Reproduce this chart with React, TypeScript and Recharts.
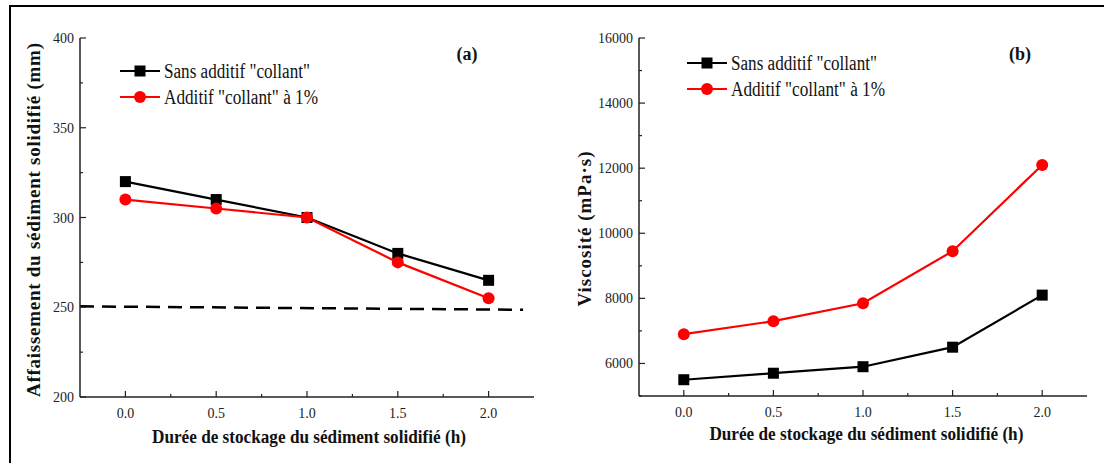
import React from 'react';
import { LineChart, Line, XAxis, YAxis, Legend, ReferenceLine } from 'recharts';

const hours = [0, 0.5, 1.0, 1.5, 2.0];
const seriesKeys = ['sans', 'collant'];
const seriesNames = ['Sans additif "collant"', 'Additif "collant" à 1%'];

// (a) affaissement (mm)
const slumpSans = [320, 310, 300, 280, 265];
const slumpCollant = [310, 305, 300, 275, 255];
// limite en pointillés
const limitHours = [-0.25, 2.19];
const limitSlump = [250.5, 248.6];

// (b) viscosité (mPa·s)
const viscSans = [5500, 5700, 5900, 6500, 8100];
const viscCollant = [6900, 7300, 7850, 9450, 12100];

const xTicks = [0, 0.25, 0.5, 0.75, 1, 1.25, 1.5, 1.75, 2];
const slumpTicks = [200, 225, 250, 275, 300, 325, 350, 375, 400];
const viscTicks = [5000, 6000, 7000, 8000, 9000, 10000, 11000, 12000, 13000, 14000, 15000, 16000];

const slumpRows = hours.map((t, i) => ({ t, sans: slumpSans[i], collant: slumpCollant[i] }));
const viscRows = hours.map((t, i) => ({ t, sans: viscSans[i], collant: viscCollant[i] }));

const SERIF = '"Liberation Serif", "Times New Roman", serif';
const AXIS = '#222';

const makeYTick = (step: number) => (props: any) => {
  const { x, y, payload } = props;
  const major = payload.value % step === 0;
  return (
    <g key={payload.value}>
      <line x1={x} x2={x + (major ? 6 : 3)} y1={y} y2={y} stroke={AXIS} strokeWidth={1.2} />
      {major && (
        <text x={x - 6} y={y} dy={5} textAnchor="end" fontFamily={SERIF} fontSize={14} fill="#222">
          {payload.value}
        </text>
      )}
    </g>
  );
};

const XTick = (props: any) => {
  const { x, y, payload } = props;
  const major = payload.value % 0.5 === 0;
  return (
    <g key={payload.value}>
      <line x1={x} x2={x} y1={y} y2={y - (major ? 6 : 3)} stroke={AXIS} strokeWidth={1.2} />
      {major && (
        <text x={x} y={y + 21} textAnchor="middle" fontFamily={SERIF} fontSize={14} fill="#222">
          {payload.value.toFixed(1)}
        </text>
      )}
    </g>
  );
};

const squareDot = (p: any) => (
  <rect key={p.index} x={p.cx - 5.5} y={p.cy - 5.5} width={11} height={11} fill="#000" />
);

const legendWidths = [146, 154];

const LegendBox = (props: any) => {
  const items = [...(props.payload || [])].sort(
    (a: any, b: any) => seriesKeys.indexOf(a.dataKey) - seriesKeys.indexOf(b.dataKey)
  );
  return (
    <svg width={180} height={52} style={{ display: 'block', overflow: 'visible' }}>
      {items.map((it: any, i: number) => {
        const y = 12 + i * 26;
        const k = seriesKeys.indexOf(it.dataKey);
        return (
          <g key={i}>
            <line x1={0} x2={40} y1={y} y2={y} stroke={it.color} strokeWidth={2.2} />
            {k === 0 ? (
              <rect x={14.5} y={y - 5.5} width={11} height={11} fill={it.color} />
            ) : (
              <circle cx={20} cy={y} r={6} fill={it.color} />
            )}
            <text x={44} y={y + 7} fontFamily={SERIF} fontSize={20} fill="#111"
              textLength={legendWidths[k]} lengthAdjust="spacingAndGlyphs">
              {it.value}
            </text>
          </g>
        );
      })}
    </svg>
  );
};

type PanelProps = {
  rows: any[];
  yDomain: [number, number];
  yTicks: number[];
  majorStep: number;
  margin: any;
  width: number;
  legendPos: { left: number; top: number };
  tag: string;
  tagX: number;
  yTitle: string;
  yTitleX: number;
  yTitleY: number;
  yTitleLen: number;
  xTitleX: number;
  xTitleY: number;
  children?: React.ReactNode;
};

function Panel(p: PanelProps) {
  return (
    <LineChart width={p.width} height={463} data={p.rows} margin={p.margin}>
      <XAxis type="number" dataKey="t" domain={[-0.25, 2.25]} ticks={xTicks} interval={0}
        height={1} tickSize={0} tickMargin={0} tickLine={false}
        axisLine={{ stroke: AXIS, strokeWidth: 1.5 }} tick={(t: any) => <XTick {...t} />} />
      <YAxis type="number" domain={p.yDomain} ticks={p.yTicks} interval={0}
        width={1} tickSize={0} tickMargin={0} tickLine={false}
        axisLine={{ stroke: AXIS, strokeWidth: 1.5 }} tick={makeYTick(p.majorStep)} />
      {p.children}
      <Line dataKey="sans" name={seriesNames[0]} stroke="#000" strokeWidth={2.2}
        dot={squareDot} activeDot={false} isAnimationActive={false} />
      <Line dataKey="collant" name={seriesNames[1]} stroke="#ff0000" strokeWidth={2.2}
        dot={{ r: 6, fill: '#ff0000', stroke: '#ff0000', strokeWidth: 0 }} activeDot={false}
        isAnimationActive={false} />
      <Legend layout="vertical" align="center" verticalAlign="middle" content={LegendBox}
        wrapperStyle={{ left: p.legendPos.left, top: p.legendPos.top, width: 180, height: 52 }} />
      <text x={p.tagX} y={60} textAnchor="middle" fontFamily={SERIF} fontWeight="bold" fontSize={18} fill="#111">
        {p.tag}
      </text>
      <text x={p.yTitleX} y={p.yTitleY} transform={`rotate(-90 ${p.yTitleX} ${p.yTitleY})`}
        textAnchor="middle" fontFamily={SERIF} fontWeight="bold" fontSize={19} fill="#111"
        textLength={p.yTitleLen}>
        {p.yTitle}
      </text>
      <text x={p.xTitleX} y={p.xTitleY} textAnchor="middle" fontFamily={SERIF} fontWeight="bold"
        fontSize={19} fill="#111" textLength={314} lengthAdjust="spacingAndGlyphs">
        Durée de stockage du sédiment solidifié (h)
      </text>
    </LineChart>
  );
}

export default function App() {
  return (
    <div style={{ position: 'absolute', left: 0, top: 0, width: 1104, height: 463, overflow: 'hidden', background: '#fff' }}>
      <div style={{ position: 'absolute', left: 9, top: 5, width: 1200, height: 600, borderTop: '2px solid #000', borderLeft: '2px solid #000' }} />
      <div style={{ position: 'absolute', left: 0, top: 0 }}>
        <Panel rows={slumpRows} yDomain={[200, 400]} yTicks={slumpTicks} majorStep={50}
          width={560} margin={{ top: 38, right: 26, bottom: 65, left: 79 }}
          legendPos={{ left: 119.5, top: 58.7 }} tag="(a)" tagX={467}
          yTitle="Affaissement du sédiment solidifié (mm)" yTitleX={40} yTitleY={220} yTitleLen={354}
          xTitleX={309} xTitleY={443}>
          <ReferenceLine
            segment={[
              { x: limitHours[0], y: limitSlump[0] },
              { x: limitHours[1], y: limitSlump[1] },
            ]}
            stroke="#000" strokeWidth={2.5} strokeDasharray="14 8" ifOverflow="visible" />
        </Panel>
      </div>
      <div style={{ position: 'absolute', left: 560, top: 0 }}>
        <Panel rows={viscRows} yDomain={[5000, 16000]} yTicks={viscTicks} majorStep={2000}
          width={544} margin={{ top: 38, right: 17, bottom: 66, left: 78 }}
          legendPos={{ left: 126.7, top: 51.3 }} tag="(b)" tagX={460}
          yTitle="Viscosité  (mPa·s)" yTitleX={31} yTitleY={229} yTitleLen={155}
          xTitleX={306.4} xTitleY={440} />
      </div>
    </div>
  );
}
